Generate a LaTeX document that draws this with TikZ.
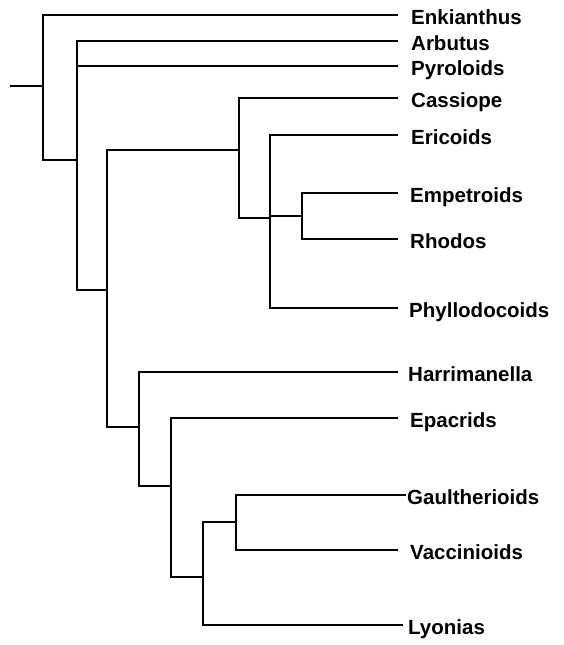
\documentclass[tikz,border=0pt]{standalone}
\usepackage{fontspec}
\setmainfont{Liberation Sans}
\begin{document}
\begin{tikzpicture}[x=1pt,y=-1pt,
  branch/.style={line width=2.8pt, line join=miter},
  stub/.style={line width=2.2pt},
  taxon/.style={anchor=base west, inner sep=0pt, font=\fontsize{20.5}{24}\selectfont\bfseries}]
\useasboundingbox (0,0) rectangle (563,645);
% internal nodes
\coordinate (base) at (10,86);
\coordinate (R)  at (43,86);
\coordinate (N1) at (77,160);
\coordinate (N2) at (107,290);
\coordinate (N3) at (239,150);
\coordinate (N4) at (270,218);
\coordinate (N5) at (302,216);
\coordinate (N6) at (139,427);
\coordinate (N7) at (171,486);
\coordinate (N8) at (203,577);
\coordinate (N9) at (236,522);
% leaf tips
\coordinate (tEnk) at (398,15);
\coordinate (tArb) at (398,41);
\coordinate (tPyr) at (398,66);
\coordinate (tCas) at (398,98);
\coordinate (tEri) at (398,135);
\coordinate (tEmp) at (398,193);
\coordinate (tRho) at (398,239);
\coordinate (tPhy) at (398,308);
\coordinate (tHar) at (398,372);
\coordinate (tEpa) at (398,418);
\coordinate (tGau) at (406,495);
\coordinate (tVac) at (398,550);
\coordinate (tLyo) at (403,625);
% labels
\node[taxon] (Enk) at (411,24) {Enkianthus};
\node[taxon] (Arb) at (411,50) {Arbutus};
\node[taxon] (Pyr) at (411,75) {Pyroloids};
\node[taxon] (Cas) at (411,107) {Cassiope};
\node[taxon] (Eri) at (411,144) {Ericoids};
\node[taxon] (Emp) at (410,202) {Empetroids};
\node[taxon] (Rho) at (410,248) {Rhodos};
\node[taxon] (Phy) at (409,317) {Phyllodocoids};
\node[taxon] (Har) at (408,381) {Harrimanella};
\node[taxon] (Epa) at (410,427) {Epacrids};
\node[taxon] (Gau) at (407,504) {Gaultherioids};
\node[taxon] (Vac) at (410,559) {Vaccinioids};
\node[taxon] (Lyo) at (408,634) {Lyonias};
% branches
\draw[stub] (base) -- (R);
\draw[branch] (R) |- (tEnk);
\draw[branch] (R) |- (N1);
\draw[branch] (N1) |- (tArb);
\draw[branch] (N1) |- (tPyr);
\draw[branch] (N1) |- (N2);
\draw[branch] (N2) |- (N3);
\draw[branch] (N2) |- (N6);
\draw[branch] (N3) |- (tCas);
\draw[branch] (N3) |- (N4);
\draw[branch] (N4) |- (tEri);
\draw[branch] (N4) |- (N5);
\draw[branch] (N4) |- (tPhy);
\draw[branch] (N5) |- (tEmp);
\draw[branch] (N5) |- (tRho);
\draw[branch] (N6) |- (tHar);
\draw[branch] (N6) |- (N7);
\draw[branch] (N7) |- (tEpa);
\draw[branch] (N7) |- (N8);
\draw[branch] (N8) |- (N9);
\draw[branch] (N8) |- (tLyo);
\draw[branch] (N9) |- (tGau);
\draw[branch] (N9) |- (tVac);
\end{tikzpicture}
\end{document}
